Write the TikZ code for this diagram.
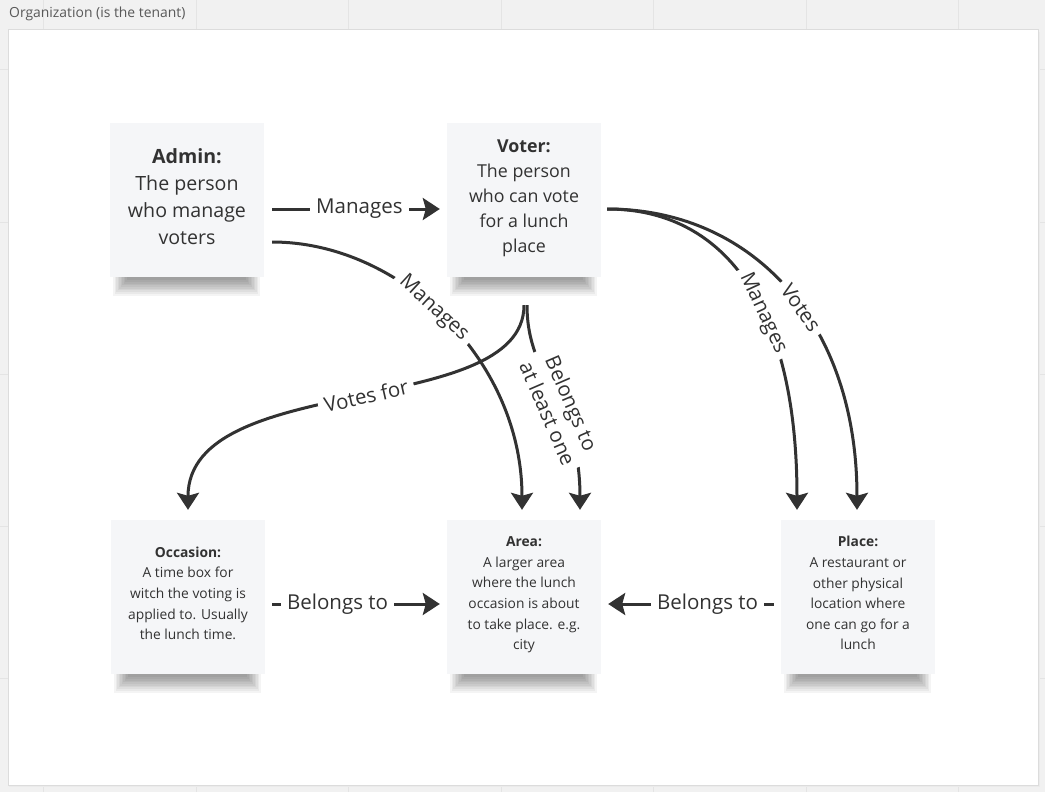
\documentclass[tikz,border=0pt]{standalone}
\usepackage{fontspec}
\setmainfont{Open Sans}
\usepackage{tikz}
\usetikzlibrary{arrows.meta,positioning,calc,backgrounds}
\definecolor{boardgray}{RGB}{241,241,241}
\definecolor{gridgray}{RGB}{228,228,228}
\definecolor{framegray}{RGB}{220,220,220}
\definecolor{notegray}{RGB}{245,246,248}
\definecolor{inkgray}{RGB}{50,50,50}
\definecolor{titlegray}{RGB}{88,88,88}

\begin{document}
\begin{tikzpicture}[x=1pt, y=-1pt,
    note/.style={fill=notegray, minimum width=154pt, minimum height=154pt, inner sep=0pt, text depth=7.5pt, align=center, text=inkgray},
    bignote/.style={note, font=\fontsize{19.6}{27}\selectfont},
    midnote/.style={note, font=\fontsize{17.8}{25}\selectfont},
    smallnote/.style={note, font=\fontsize{13.8}{20.6}\selectfont},
    link/.style={draw=inkgray, line width=3pt, -{Stealth[length=17pt, width=22pt, inset=3pt]}},
    linklabel/.style={fill=white, text=inkgray, font=\fontsize{20.5}{26}\selectfont, inner xsep=6pt, inner ysep=1pt, align=center}
]
    \useasboundingbox (0,0) rectangle (1045,792);

    % Board title
    \node[anchor=west, inner sep=0pt, text=titlegray, font=\fontsize{13.9}{16}\selectfont] (tenant) at (9,14) {Organization (is the tenant)};

    % Sticky notes
    \node[bignote] (admin) at (187,200) {\textbf{Admin:}\\The person\\who manage\\voters};
    \node[midnote] (voter) at (524,200) {\textbf{Voter:}\\The person\\who can vote\\for a lunch\\place};
    \node[smallnote] (occasion) at (188,597) {\textbf{Occasion:}\\A time box for\\witch the voting is\\applied to. Usually\\the lunch time.};
    \node[smallnote] (area) at (524,597) {\textbf{Area:}\\A larger area\\where the lunch\\occasion is about\\to take place. e.g.\\city};
    \node[smallnote] (place) at (858,597) {\textbf{Place:}\\A restaurant or\\other physical\\location where\\one can go for a\\lunch};

    % Straight connectors
    \draw[link] ([shift={(8,9)}]admin.east) -- node[linklabel, pos=0.52] (lblmanage) {Manages} ([shift={(-7,9)}]voter.west);
    \draw[link] ([shift={(7,7)}]occasion.east) -- node[linklabel, pos=0.39] (lblocc) {Belongs to} ([shift={(-7,7)}]area.west);
    \draw[link] ([shift={(-7,7)}]place.west) -- node[linklabel, pos=0.4] (lblplace) {Belongs to} ([shift={(7,7)}]area.east);

    % Curved connectors
    \draw[link] ([shift={(8,42)}]admin.east) .. controls +(128,0) and +(0,-150) .. node[linklabel, sloped, pos=0.46] (lbladminarea) {Manages} ([shift={(-2,-10)}]area.north);
    \draw[link] ([shift={(0,28)}]voter.south) .. controls +(0,115) and +(0,-140) .. node[linklabel, sloped, pos=0.48] (lblvotes) {Votes for} ([shift={(0,-10)}]occasion.north);
    \draw[link] ([shift={(3,28)}]voter.south) .. controls +(0,75) and +(0,-110) .. node[linklabel, sloped, pos=0.58] (lblbelongs) {Belongs to\\at least one} ([shift={(56,-10)}]area.north);
    \draw[link] ([shift={(6,9)}]voter.east) .. controls +(113,0) and +(0,-210) .. node[linklabel, sloped, pos=0.6] (lblvoterplace) {Manages} ([shift={(-61,-10)}]place.north);
    \draw[link] ([shift={(6,9)}]voter.east) .. controls +(143,0) and +(0,-190) .. node[linklabel, sloped, pos=0.56] (lblvote) {Votes} ([shift={(-1,-10)}]place.north);

    \begin{scope}[on background layer]
        % Board with grid
        \fill[boardgray] (0,0) rectangle (1045,792);
        \foreach \gx in {43,196,348,501,653,806,958}
            \draw[gridgray, line width=1pt] (\gx,0) -- (\gx,792);
        \foreach \gy in {70,222,374,526,678}
            \draw[gridgray, line width=1pt] (0,\gy) -- (1045,\gy);

        % Frame
        \fill[black!8] (9,32) rectangle (1040,787);
        \draw[framegray, fill=white, line width=1pt] (8,30) rectangle (1038,785);

        % Note shadows
        \foreach \n in {admin,voter,occasion,area,place}
            \foreach \k in {1,...,10}
                \fill[black, opacity=0.045] ([shift={(2+1.5*\k,0)}]\n.south west) rectangle ([shift={(-3-1.5*\k,20-1.7*\k)}]\n.south east);
    \end{scope}
\end{tikzpicture}
\end{document}
